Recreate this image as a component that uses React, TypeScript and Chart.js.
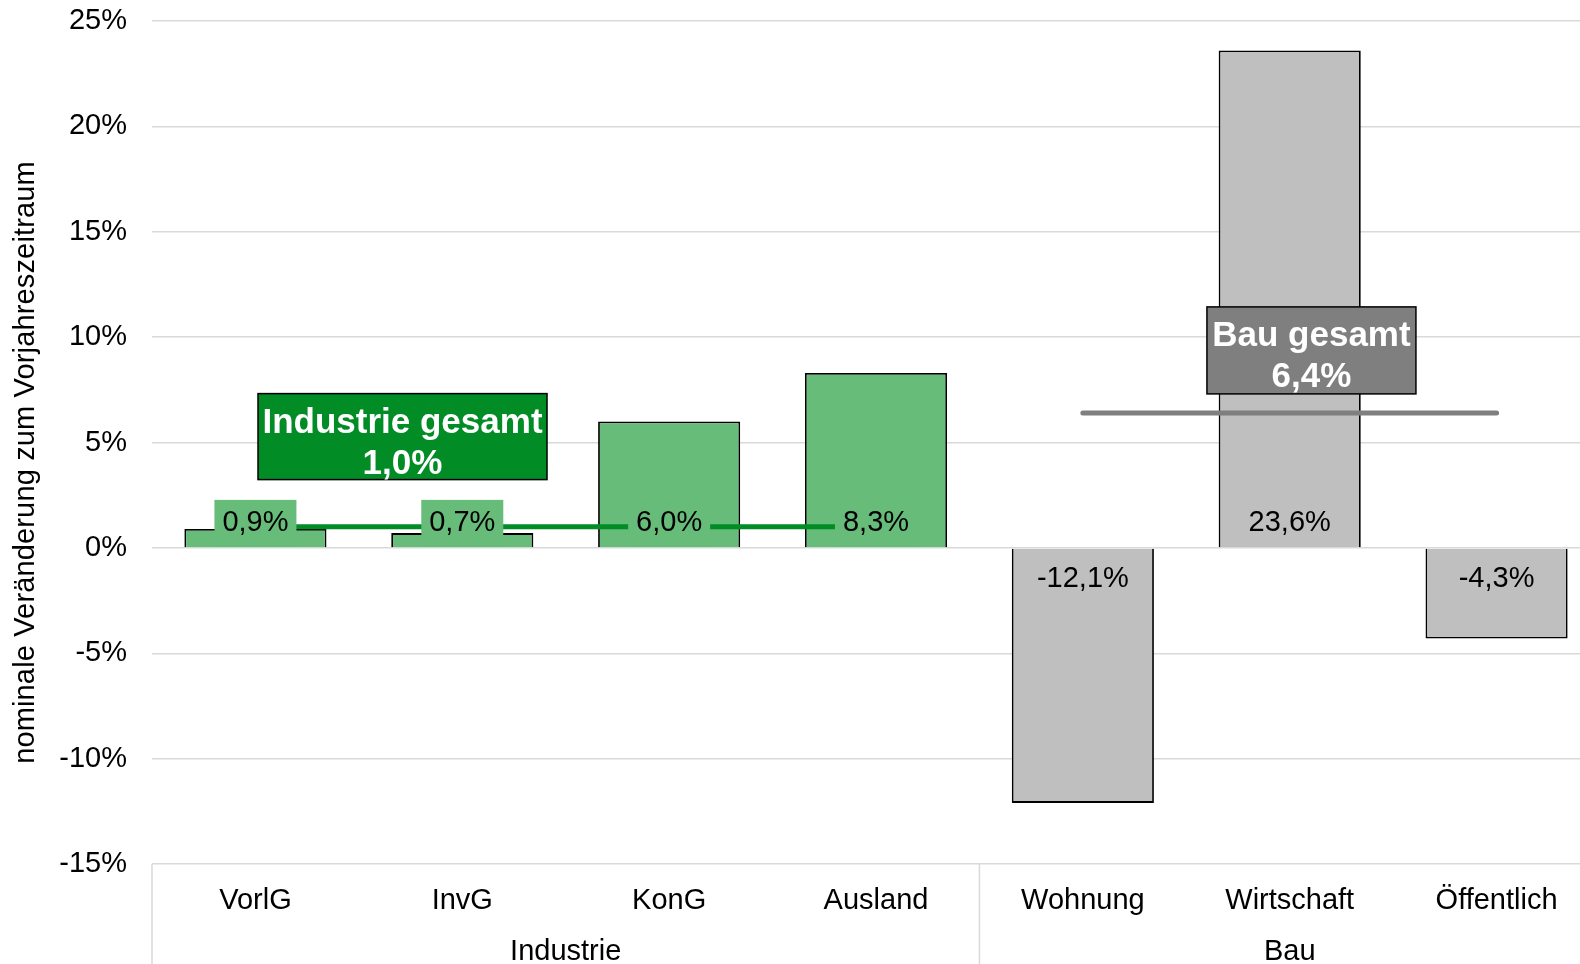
import React, { useEffect, useRef } from "react";
import { Chart, registerables } from "chart.js";

Chart.register(...registerables);

const categories = ["VorlG", "InvG", "KonG", "Ausland", "Wohnung", "Wirtschaft", "Öffentlich"];
const groups = ["Industrie", "Bau"];
const groupSizes = [4, 3];
const values = [0.9, 0.7, 6.0, 8.3, -12.1, 23.6, -4.3];
const industrieTotal = 1.0;
const bauTotal = 6.4;
const industrieLine = [industrieTotal, industrieTotal, industrieTotal, industrieTotal, null, null, null];
const bauLine = [null, null, null, null, bauTotal, bauTotal, bauTotal];
const yTicks = [-15, -10, -5, 0, 5, 10, 15, 20, 25];
const yTitle = "nominale Veränderung zum Vorjahreszeitraum";

const GREEN_BAR = "#66BC78";
const GRAY_BAR = "#BFBFBF";
const DARK_GREEN = "#028C25";
const DARK_GRAY = "#7F7F7F";
const FONT = "'Liberation Sans', Arial, sans-serif";

const fmt = (v: number) => v.toFixed(1).replace(".", ",") + "%";

// annotation boxes: category index (fractional) and y value of the box centre
const boxes = [
  { idx: 0.711, val: 5.28, w: 289, h: 86, fill: DARK_GREEN, l1: "Industrie gesamt", l2: fmt(industrieTotal) },
  { idx: 5.105, val: 9.37, w: 209, h: 87, fill: DARK_GRAY, l1: "Bau gesamt", l2: fmt(bauTotal) },
];

export default function App() {
  const ref = useRef<HTMLCanvasElement>(null);
  useEffect(() => {
    if (!ref.current) return;
    const barColors = values.map((_, i) => (i < groupSizes[0] ? GREEN_BAR : GRAY_BAR));

    const plugin = {
      id: "custom",
      afterDatasetsDraw(chart: any) {
        const ctx = chart.ctx as CanvasRenderingContext2D;
        const ca = chart.chartArea;
        const y = chart.scales.y;
        const zeroY = y.getPixelForValue(0);
        const n = categories.length;
        const cw = (ca.right - ca.left) / n;
        const cx = (i: number) => ca.left + (i + 0.5) * cw;
        ctx.save();
        ctx.font = `29px ${FONT}`;
        ctx.textAlign = "center";
        ctx.textBaseline = "middle";
        values.forEach((v, i) => {
          const x = cx(i);
          if (v >= 0) {
            ctx.fillStyle = barColors[i];
            ctx.fillRect(x - 41, zeroY - 48, 82, 47);
            ctx.fillStyle = "#000";
            ctx.fillText(fmt(v), x, zeroY - 25);
          } else {
            ctx.fillStyle = "#000";
            ctx.fillText(fmt(v), x, zeroY + 31);
          }
        });
        boxes.forEach((b) => {
          const x = cx(b.idx);
          const yc = y.getPixelForValue(b.val);
          ctx.fillStyle = b.fill;
          ctx.fillRect(x - b.w / 2, yc - b.h / 2, b.w, b.h);
          ctx.strokeStyle = "#000";
          ctx.lineWidth = 1.5;
          ctx.strokeRect(x - b.w / 2, yc - b.h / 2, b.w, b.h);
          ctx.fillStyle = "#fff";
          ctx.font = `bold 35px ${FONT}`;
          ctx.textBaseline = "alphabetic";
          ctx.fillText(b.l1, x, yc - 4);
          ctx.fillText(b.l2, x, yc + 37);
        });
        ctx.restore();
      },
      afterDraw(chart: any) {
        const ctx = chart.ctx as CanvasRenderingContext2D;
        const ca = chart.chartArea;
        const n = categories.length;
        const cw = (ca.right - ca.left) / n;
        const H = chart.height;
        ctx.save();
        ctx.strokeStyle = "#D9D9D9";
        ctx.lineWidth = 1.5;
        let acc = 0;
        const seps = [0];
        groupSizes.forEach((s) => { acc += s; seps.push(acc); });
        seps.forEach((s) => {
          const x = ca.left + s * cw;
          ctx.beginPath();
          ctx.moveTo(x, ca.bottom);
          ctx.lineTo(x, H);
          ctx.stroke();
        });
        ctx.fillStyle = "#000";
        ctx.font = `29px ${FONT}`;
        ctx.textAlign = "center";
        ctx.textBaseline = "middle";
        categories.forEach((c, i) => ctx.fillText(c, ca.left + (i + 0.5) * cw, ca.bottom + 37));
        acc = 0;
        groups.forEach((g, gi) => {
          const start = acc;
          acc += groupSizes[gi];
          ctx.fillText(g, ca.left + ((start + acc) / 2) * cw, ca.bottom + 88);
        });
        ctx.translate(26, (ca.top + ca.bottom) / 2 + 20);
        ctx.rotate(-Math.PI / 2);
        ctx.font = `29px ${FONT}`;
        (ctx as any).letterSpacing = "0.15px";
        ctx.fillText(yTitle, 0, 0);
        ctx.restore();
      },
    };

    const chart = new Chart(ref.current, {
      type: "bar",
      data: {
        labels: categories,
        datasets: [
          {
            type: "bar",
            data: values,
            backgroundColor: barColors,
            borderColor: "#000",
            borderWidth: 1.8,
            barPercentage: 0.687,
            categoryPercentage: 1,
            order: 3,
          } as any,
          {
            type: "line",
            data: industrieLine,
            borderColor: DARK_GREEN,
            borderWidth: 5,
            pointRadius: 0,
            borderCapStyle: "round",
            spanGaps: false,
            order: 1,
          },
          {
            type: "line",
            data: bauLine,
            borderColor: DARK_GRAY,
            borderWidth: 5,
            pointRadius: 0,
            borderCapStyle: "round",
            spanGaps: false,
            order: 1,
          },
        ],
      },
      options: {
        responsive: false,
        animation: false,
        devicePixelRatio: 1,
        layout: { padding: { top: 21, bottom: 100, left: 0, right: 0 } },
        plugins: { legend: { display: false }, tooltip: { enabled: false }, title: { display: false } },
        scales: {
          x: { display: false, offset: true },
          y: {
            min: -15,
            max: 25,
            afterBuildTicks: (scale: any) => {
              scale.ticks = yTicks.map((v) => ({ value: v }));
            },
            afterFit: (scale: any) => {
              scale.width = 152;
              scale.paddingTop = 0;
              scale.paddingBottom = 0;
            },
            grid: { color: "#D9D9D9", lineWidth: 1.5, drawTicks: false },
            border: { display: false },
            ticks: {
              padding: 25,
              color: "#000",
              font: { family: FONT, size: 29 },
              callback: (v: any) => v + "%",
            },
          },
        },
      },
      plugins: [plugin],
    });
    return () => chart.destroy();
  }, []);

  return (
    <div style={{ position: "fixed", left: 0, top: 0, width: 1580, height: 964, overflow: "hidden", background: "#fff" }}>
      <canvas ref={ref} width={1600} height={964} style={{ width: 1600, height: 964, display: "block" }} />
    </div>
  );
}
